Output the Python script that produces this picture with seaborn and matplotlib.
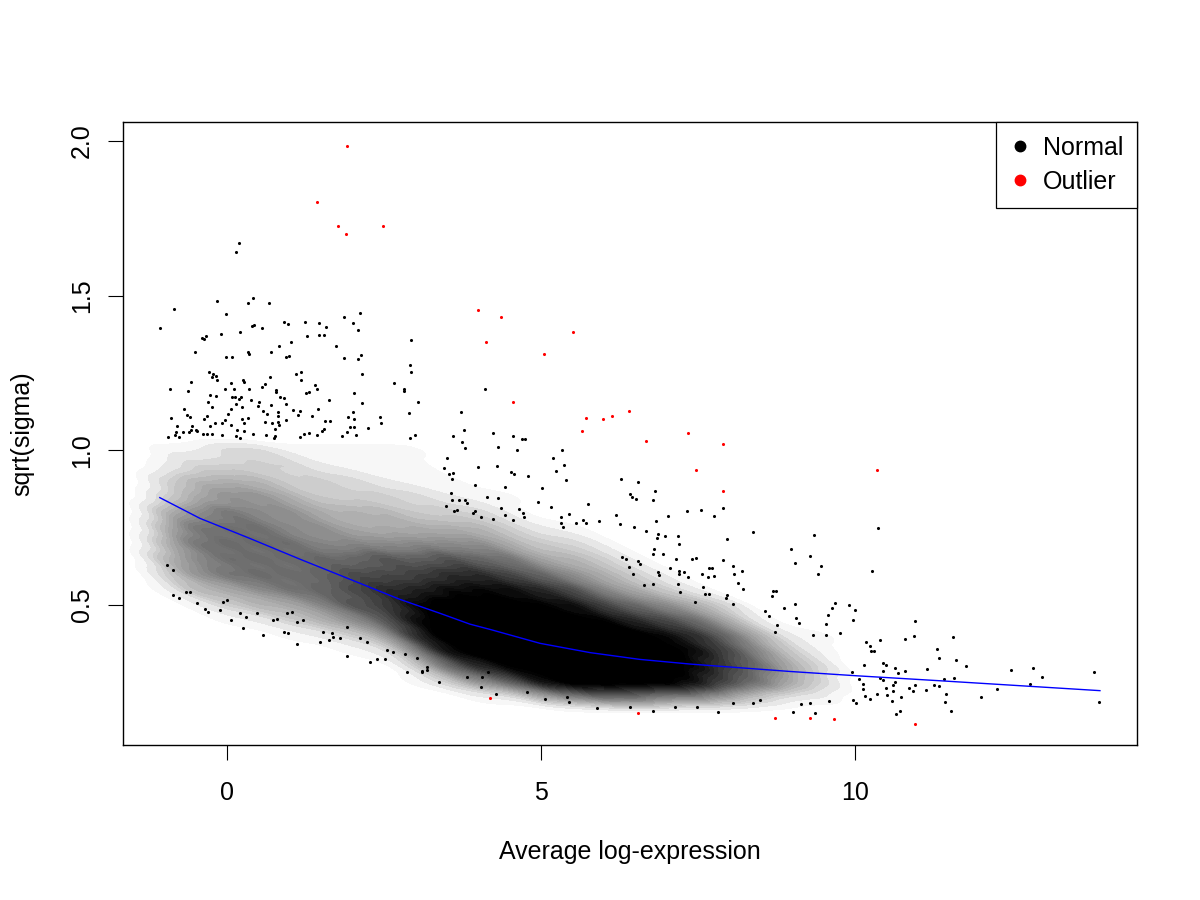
import numpy as np
import pandas as pd
import matplotlib
matplotlib.use("Agg")
import matplotlib.pyplot as plt
from matplotlib.colors import LinearSegmentedColormap
from matplotlib.lines import Line2D
import seaborn as sns

# ---------------- data ----------------
# Red outliers (Average log-expression, sqrt(sigma))
outlier_x = [1.91, 1.44, 1.77, 2.49, 1.90, 3.99, 4.37, 4.13, 5.51, 5.05, 4.56, 5.72, 5.99, 6.13,
             6.40, 5.66, 6.67, 7.34, 7.90, 7.46, 7.89, 10.35, 4.18, 6.55, 8.73, 9.28, 9.66, 10.96]
outlier_y = [1.985, 1.804, 1.724, 1.724, 1.698, 1.453, 1.430, 1.349, 1.381, 1.312, 1.156, 1.105, 1.100, 1.111,
             1.126, 1.063, 1.031, 1.055, 1.019, 0.935, 0.867, 0.935, 0.198, 0.150, 0.134, 0.134, 0.132, 0.116]

# Trend line (blue)
trend_x = [-1.07, -0.43, 0.366, 1.162, 1.959, 2.755, 3.392, 3.869, 4.188, 4.984, 5.780, 6.576, 7.373,
           8.169, 8.965, 10.03, 11.35, 13.90]
trend_y = [0.847, 0.780, 0.715, 0.648, 0.583, 0.518, 0.473, 0.438, 0.421, 0.376, 0.346, 0.324, 0.309,
           0.297, 0.285, 0.271, 0.255, 0.223]

# Individually readable "Normal" genes (sparse part of the cloud)
normal_upper_left = [
 (0.196,1.669),(0.148,1.641),(-0.839,1.456),(-1.062,1.394),(-0.159,1.482),(-0.021,1.441),(0.339,1.476),(0.409,1.491),
 (0.669,1.477),(-0.398,1.364),(-0.361,1.360),(-0.330,1.370),(-0.091,1.375),(0.212,1.381),(0.393,1.402),(0.435,1.404),
 (0.562,1.394),(0.903,1.415),(0.967,1.408),(1.247,1.415),(1.470,1.413),(1.581,1.398),(1.863,1.432),(2.123,1.443),
 (2.011,1.411),(2.091,1.388),(1.470,1.372),(1.549,1.372),(1.279,1.370),(1.024,1.349),(0.833,1.336),(-0.505,1.319),
 (-0.021,1.303),(0.080,1.303),(0.339,1.319),(0.346,1.310),(0.705,1.317),(0.935,1.302),(0.992,1.306),(1.740,1.336),
 (1.868,1.298),(2.091,1.294),(2.134,1.308),(2.925,1.356),(2.919,1.277),(2.935,1.253),(2.659,1.219),(2.814,1.197),
 (2.823,1.192),(2.154,1.246),(2.027,1.184),(2.154,1.152),(3.046,1.155),(2.903,1.120),(4.113,1.197),(3.731,1.123),
 (3.779,1.066),(4.236,1.055),(4.559,1.046),(3.594,1.045),(2.998,1.048),(2.919,1.040),(2.457,1.087),(2.432,1.107),
 (2.250,1.071),(2.006,1.123),(1.927,1.107),(2.027,1.101),(1.954,1.075),(2.027,1.074),(2.054,1.048),(1.916,1.058),
 (1.836,1.046),(1.629,1.163),(1.454,1.134),(1.354,1.111),(1.565,1.094),(1.640,1.094),(1.508,1.063),(1.549,1.068),
 (1.438,1.048),(1.311,1.055),(1.231,1.054),(1.167,1.043),(1.406,1.211),(1.438,1.199),(1.253,1.184),(1.301,1.188),
 (1.104,1.246),(1.183,1.252),(1.183,1.226),(0.689,1.236),(0.610,1.215),(0.562,1.205),(0.775,1.196),(0.785,1.189),
 (0.844,1.172),(0.908,1.168),(0.944,1.149),(0.705,1.146),(1.056,1.130),(1.167,1.126),(1.131,1.113),(0.817,1.125),
 (0.817,1.110),(0.935,1.097),(0.828,1.082),(0.812,1.092),(0.721,1.088),(0.610,1.091),(0.760,1.069),(0.642,1.118),
 (0.578,1.127),(0.494,1.142),(0.514,1.157),(0.382,1.163),(0.346,1.197),(0.260,1.228),(0.275,1.221),(0.116,1.197),
 (-0.032,1.197),(0.068,1.217),(0.080,1.171),(0.132,1.171),(0.191,1.165),(0.223,1.172),(0.148,1.149),(0.244,1.141),
 (0.234,1.102),(0.330,1.103),(0.275,1.088),(0.164,1.066),(0.271,1.062),(0.068,1.133),(0.016,1.116),(0.059,1.081),
 (-0.027,1.097),(-0.080,1.089),(-0.196,1.089),(-0.266,1.079),(-0.266,1.178),(-0.180,1.176),(-0.244,1.139),(-0.298,1.157),
 (-0.314,1.112),(-0.361,1.101),(-0.287,1.252),(-0.228,1.247),(-0.239,1.237),(-0.170,1.239),(-0.154,1.227),(-0.573,1.220),
 (-0.616,1.192),(-0.903,1.199),(-0.680,1.133),(-0.642,1.115),(-0.584,1.108),(-0.892,1.104),(-0.791,1.079),(-0.553,1.080),
 (-0.569,1.066),(-0.489,1.067),(-0.478,1.061),(-0.605,1.058),(-0.696,1.058),(-0.817,1.060),(-0.828,1.050),(-0.760,1.044),
 (-0.944,1.042),(-0.377,1.052),(-0.314,1.052),(-0.244,1.052),(-0.080,1.048),(0.148,1.047),(0.207,1.041),(0.409,1.052),
 (0.616,1.048),(0.764,1.046),(0.744,1.040),
]
normal_upper_mid = [
 (3.737,1.027),(3.790,1.006),(4.310,1.010),(4.623,1.000),(4.693,1.036),(4.750,1.036),(5.196,0.975),(5.339,1.000),
 (5.366,0.952),(5.234,0.934),(5.403,0.903),(3.508,0.974),(3.460,0.944),(3.992,0.945),(4.304,0.950),(4.517,0.930),
 (4.570,0.923),(4.788,0.916),(3.594,0.928),(3.540,0.923),(3.588,0.908),(3.954,0.889),(4.427,0.882),(5.011,0.877),
 (6.274,0.908),(6.549,0.897),(6.810,0.867),(6.788,0.838),(6.417,0.859),(6.444,0.850),(6.513,0.843),(5.744,0.827),
 (4.957,0.832),(5.159,0.818),(3.572,0.863),(3.578,0.838),(4.135,0.850),(4.320,0.845),(4.358,0.813),(3.699,0.838),
 (3.795,0.838),(3.817,0.829),(3.482,0.821),(3.944,0.804),(3.922,0.798),(3.619,0.804),(3.662,0.807),(4.650,0.809),
 (4.718,0.798),(4.734,0.783),(4.549,0.775),(4.422,0.791),(4.240,0.777),(4.040,0.785),(5.451,0.794),(5.323,0.785),
 (5.323,0.764),(5.355,0.751),(5.557,0.764),(5.674,0.775),(5.712,0.764),(5.924,0.771),(6.199,0.790),(6.253,0.761),
 (6.486,0.751),(6.836,0.771),(7.027,0.788),(7.330,0.803),(7.548,0.807),(7.755,0.787),(7.893,0.813),(6.677,0.739),
 (6.858,0.730),(6.852,0.715),(6.979,0.724),(7.186,0.724),(7.193,0.698),(7.957,0.713),(8.381,0.735),(9.347,0.725),
 (10.371,0.749),(8.986,0.681),(9.283,0.658),(9.040,0.635),(9.454,0.625),(9.406,0.599),(10.266,0.610),(7.903,0.644),
 (8.062,0.625),(8.196,0.610),(8.078,0.599),(8.142,0.570),(8.212,0.551),(8.062,0.502),(7.966,0.531),(7.941,0.522),
 (7.675,0.619),(7.718,0.619),(7.755,0.593),(7.654,0.591),(7.564,0.599),(7.409,0.650),(7.473,0.652),(7.150,0.648),
 (7.054,0.620),(7.193,0.610),(7.197,0.601),(7.282,0.608),(7.341,0.590),(6.863,0.608),(6.879,0.596),(6.938,0.664),
 (6.788,0.664),(6.804,0.681),(6.540,0.643),(6.581,0.633),(6.396,0.624),(6.460,0.599),(6.295,0.656),(6.349,0.648),
 (6.645,0.566),(6.779,0.568),(7.182,0.568),(7.213,0.543),(7.580,0.558),(7.611,0.534),(7.680,0.535),(7.457,0.508),
 (9.900,0.499),(10.000,0.483),(9.682,0.505),(9.629,0.489),(9.565,0.468),(9.538,0.437),(9.766,0.410),(9.533,0.402),
 (9.326,0.403),(9.065,0.459),(9.104,0.443),(9.045,0.504),(8.865,0.491),(8.699,0.545),(8.742,0.546),(8.683,0.529),
 (8.567,0.480),(8.626,0.465),(8.763,0.434),(8.731,0.414),
]
normal_right_tail = [
 (9.97,0.452),(10.96,0.449),(10.94,0.399),(10.79,0.389),(11.56,0.396),(11.31,0.357),(11.33,0.327),(11.61,0.321),
 (11.76,0.302),(11.14,0.292),(12.49,0.289),(12.84,0.295),(12.97,0.267),(12.79,0.243),(12.26,0.229),(12.00,0.201),
 (13.81,0.284),(13.89,0.185),(11.53,0.158),(11.45,0.213),(11.43,0.185),(11.42,0.260),(11.57,0.263),(11.26,0.241),
 (11.33,0.237),(11.13,0.225),(10.96,0.240),(10.93,0.221),(10.86,0.230),(10.73,0.204),(10.66,0.146),(10.72,0.156),
 (10.59,0.188),(10.51,0.208),(10.35,0.212),(10.24,0.197),(10.16,0.205),(10.02,0.184),(9.96,0.192),(10.80,0.285),
 (10.68,0.279),(10.64,0.297),(10.45,0.285),(10.44,0.313),(10.49,0.307),(10.15,0.306),(10.39,0.386),(10.18,0.381),
 (10.24,0.368),(10.31,0.352),(10.25,0.350),(9.95,0.284),(10.07,0.261),(10.13,0.245),(10.13,0.228),(10.61,0.240),
 (10.64,0.250),(10.61,0.223),(10.49,0.230),(10.39,0.263),(10.44,0.256),
]
normal_lower_edge = [
 (3.37,0.252),(4.04,0.236),(4.28,0.212),(4.77,0.219),(5.06,0.195),(5.41,0.203),(5.44,0.187),(5.89,0.166),
 (6.42,0.171),(6.79,0.157),(7.14,0.171),(7.48,0.169),(7.82,0.153),(8.06,0.182),(8.38,0.182),(8.49,0.193),
 (9.02,0.155),(9.37,0.150),(9.14,0.180),(9.29,0.182),(9.59,0.190),(4.06,0.268),(4.16,0.284),(3.82,0.268),
 (3.10,0.287),(3.18,0.300),
 (0.578,0.403),(0.250,0.426),(0.059,0.451),(-0.350,0.486),(-0.298,0.478),(-0.107,0.484),(-0.473,0.507),(-0.855,0.532),
 (-0.760,0.524),(0.908,0.414),(0.966,0.408),(1.120,0.373),(1.475,0.381),(1.619,0.387),(1.693,0.395),(1.916,0.336),
 (2.277,0.317),(2.384,0.324),(2.516,0.324),(2.861,0.282),(3.100,0.284),(3.180,0.290),(1.110,0.445),(1.215,0.451),
 (0.951,0.473),(1.030,0.478),(0.737,0.451),(0.791,0.454),(0.473,0.473),(0.207,0.475),(0.303,0.462),(-0.005,0.516),
 (-0.059,0.511),(-0.653,0.543),(-0.589,0.541),(-0.960,0.629),(-0.855,0.613),(1.533,0.414),(1.667,0.408),(1.799,0.392),
 (2.118,0.392),(2.224,0.381),(1.906,0.430),(2.543,0.354),(2.648,0.349),(2.834,0.341),(3.021,0.328),
]

# Dense core of the cloud: estimated coverage (0-9) of each cell of the picture,
# columns = Average log-expression, rows = sqrt(sigma)
cell_x = [-1.0, -0.5, 0.0, 0.5, 1.0, 1.5, 2.0, 2.5, 3.0, 3.5, 4.0, 4.5, 5.0, 5.5, 6.0, 6.5, 7.0, 7.5, 8.0, 8.5, 9.0, 9.5]
cell_y = [1.00, 0.95, 0.90, 0.85, 0.80, 0.75, 0.70, 0.65, 0.60, 0.55, 0.50, 0.45, 0.40, 0.35, 0.30, 0.25, 0.20, 0.15]
coverage = [
 [1,1,2,2,3,3,3,3,2,1,0,0,0,0,0,0,0,0],
 [1,2,3,3,4,5,5,4,4,3,1,0,0,0,0,0,0,0],
 [2,2,3,4,5,5,5,5,5,3,2,1,0,0,0,0,0,0],
 [2,2,3,4,4,5,5,5,5,4,3,1,0,0,0,0,0,0],
 [1,2,2,3,4,4,5,5,5,5,3,2,1,0,0,0,0,0],
 [1,1,2,2,3,4,4,5,5,5,4,3,1,0,0,0,0,0],
 [1,1,2,2,3,3,4,5,6,6,6,4,2,1,0,0,0,0],
 [1,1,1,2,3,3,4,6,6,7,6,5,3,1,0,0,0,0],
 [1,1,1,2,2,3,4,5,6,7,8,8,7,4,2,1,0,0],
 [0,0,1,1,2,3,4,6,7,8,9,9,9,8,5,2,0,0],
 [0,0,0,1,2,3,4,5,7,8,9,9,9,9,7,4,1,0],
 [0,0,0,1,1,2,3,5,6,8,9,9,9,9,8,5,1,0],
 [0,0,0,0,0,1,2,3,5,7,8,9,9,9,9,8,3,0],
 [0,0,0,0,0,1,2,3,4,6,8,9,9,9,9,9,4,0],
 [0,0,0,0,0,0,1,2,3,4,6,8,9,9,9,9,5,0],
 [0,0,0,0,0,0,0,1,2,3,5,7,9,9,9,9,5,0],
 [0,0,0,0,0,0,0,0,1,2,4,6,8,9,9,9,4,0],
 [0,0,0,0,0,0,0,0,0,1,3,5,7,8,8,8,4,0],
 [0,0,0,0,0,0,0,0,0,0,2,3,5,6,6,6,3,0],
 [0,0,0,0,0,0,0,0,0,0,0,1,3,4,5,5,2,0],
 [0,0,0,0,0,0,0,0,0,0,0,0,1,2,3,3,1,0],
 [0,0,0,0,0,0,0,0,0,0,0,0,1,1,2,2,1,0],
]

x_ticks = [0, 5, 10]
y_ticks = [0.5, 1.0, 1.5, 2.0]
y_ticklabels = ["0.5", "1.0", "1.5", "2.0"]
legend_labels = ["Normal", "Outlier"]

# ---------------- build tables ----------------
normal_pts = normal_upper_left + normal_upper_mid + normal_right_tail + normal_lower_edge
normal_df = pd.DataFrame(normal_pts, columns=["x", "y"])
outlier_df = pd.DataFrame({"x": outlier_x, "y": outlier_y})
trend_df = pd.DataFrame({"x": trend_x, "y": trend_y})
rows = []
for cx, col in zip(cell_x, coverage):
    for cy, w in zip(cell_y, col):
        if w > 0:
            rows.append((cx, cy, w))
cell_df = pd.DataFrame(rows, columns=["x", "y", "w"])

# ---------------- plot ----------------
plt.rcParams["font.family"] = ["Liberation Sans", "DejaVu Sans"]
FS = 18
fig, ax = plt.subplots(figsize=(12, 9), dpi=100)
fig.subplots_adjust(left=0.1025, right=0.9475, bottom=0.1722, top=0.8644)

dens_cmap = LinearSegmentedColormap.from_list(
    "cover", [(0.0, "#ffffff"), (0.9, "#000000"), (1.0, "#000000")])
sns.kdeplot(data=cell_df, x="x", y="y", weights="w", fill=True, levels=40, thresh=0.01,
            bw_method=0.14, cmap=dens_cmap, gridsize=350, cut=1.5, ax=ax, zorder=1)

sns.scatterplot(data=normal_df, x="x", y="y", color="black", s=5, linewidth=0,
                ax=ax, zorder=2, legend=False)
sns.lineplot(data=trend_df, x="x", y="y", color="#0000FF", linewidth=1.0, ax=ax,
             zorder=3, sort=True, estimator=None)
sns.scatterplot(data=outlier_df, x="x", y="y", color="#FF0000", s=5, linewidth=0,
                ax=ax, zorder=4, legend=False)

ax.set_xlim(-1.656, 14.49)
ax.set_ylim(0.0472, 2.0614)
ax.set_xticks(x_ticks)
ax.set_xticklabels([str(t) for t in x_ticks])
ax.set_yticks(y_ticks)
ax.set_yticklabels(y_ticklabels, rotation=90, va="center")
ax.tick_params(axis="both", direction="out", length=10.8, width=0.8, labelsize=FS, color="black")
ax.tick_params(axis="x", pad=15.0)
ax.tick_params(axis="y", pad=10.0)
for sp in ax.spines.values():
    sp.set_visible(True)
    sp.set_color("black")
    sp.set_linewidth(1.0)

ax.set_xlabel("Average log-expression", fontsize=FS)
ax.set_ylabel("sqrt(sigma)", fontsize=FS)
ax.xaxis.set_label_coords(0.5, -0.153)
ax.yaxis.set_label_coords(-0.0877, 0.5)

handles = [Line2D([0], [0], marker="o", linestyle="None", markersize=7.5,
                  markerfacecolor=c, markeredgecolor=c) for c in ["black", "#FF0000"]]
leg = ax.legend(handles, legend_labels, loc="upper right", borderaxespad=0, frameon=True,
                fancybox=False, edgecolor="black", framealpha=1, fontsize=FS,
                handlelength=0.8, handletextpad=0.52, borderpad=0.56, labelspacing=0.4)
leg.get_frame().set_linewidth(0.9)
leg.set_zorder(10)

fig.savefig("out.png", dpi=100, facecolor="white")
